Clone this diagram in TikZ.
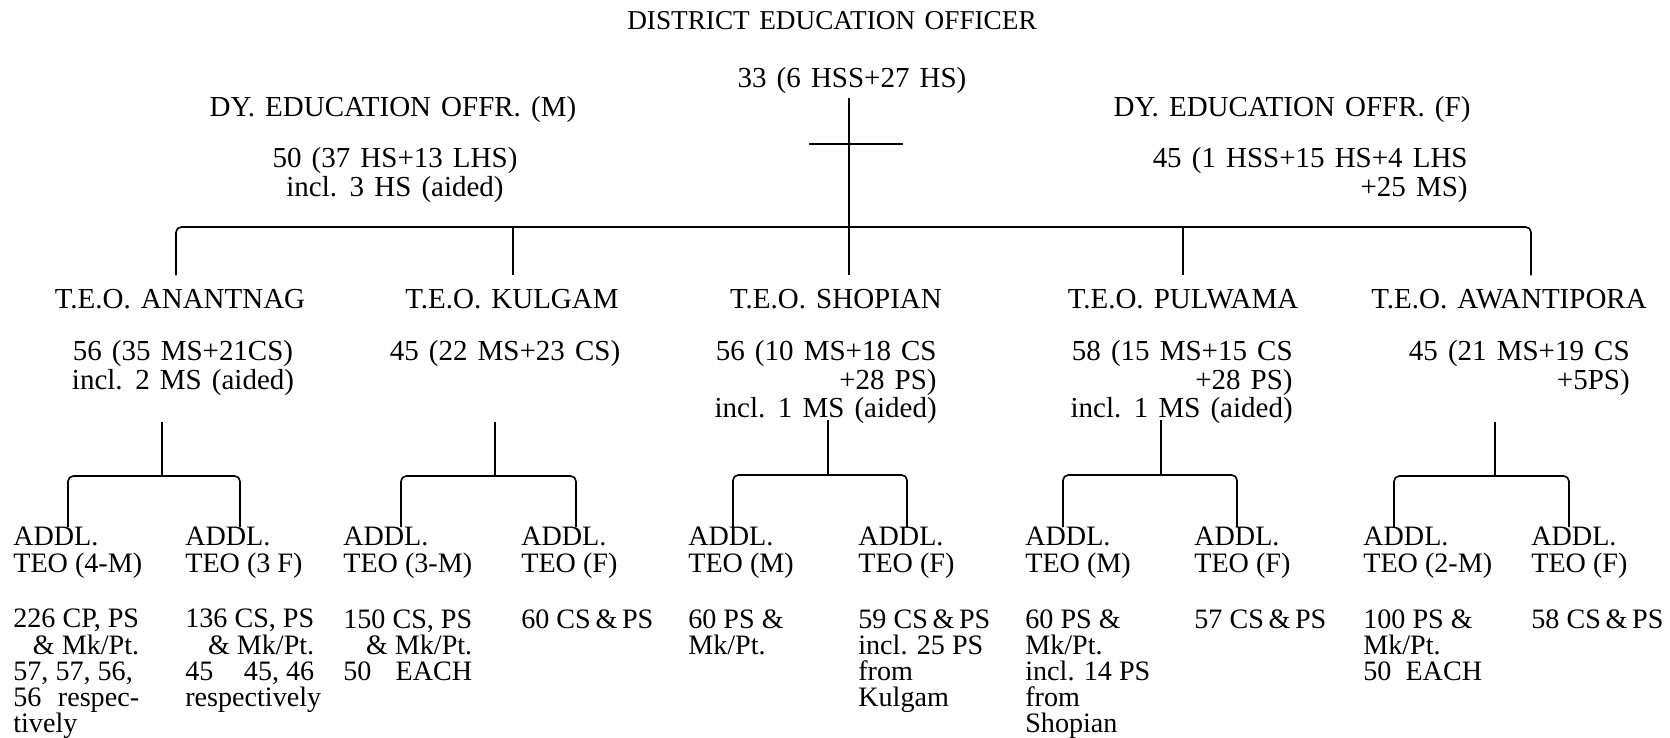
\documentclass[tikz,border=0pt]{standalone}
\usepackage{fontspec}
\setmainfont{Liberation Serif}
\newfontfamily\widefont[WordSpace=1.4]{Liberation Serif}
\usetikzlibrary{positioning}

\tikzset{
  txt/.style={inner sep=0pt, anchor=north, font=\widefont\fontsize{16.5}{14.9}\selectfont},
  addl/.style={txt, anchor=north west, align=left, font=\rmfamily\fontsize{16}{14.9}\selectfont},
  wire/.style={line width=0.9pt},
  bracket/.style={wire, rounded corners=3pt},
}

\begin{document}
\begin{tikzpicture}[x=0.02cm, y=-0.02cm]
\useasboundingbox (0,0) rectangle (1670,737);

% officers at the top
\node[txt, font=\widefont\fontsize{15.5}{14.9}\selectfont] (deo) at (832,11.5) {DISTRICT EDUCATION OFFICER};
\node[txt] (deocnt) at (852,67.5) {33 (6 HSS+27 HS)};
\node[txt] (dyM) at (393,96.5) {DY. EDUCATION OFFR. (M)};
\node[txt, align=center] (dyMcnt) at (395,147.5) {50 (37 HS+13 LHS)\\incl. 3 HS (aided)};
\node[txt] (dyF) at (1292,96.5) {DY. EDUCATION OFFR. (F)};
\node[txt, anchor=north east, align=right] (dyFcnt) at (1468,147.5) {45 (1 HSS+15 HS+4 LHS\\+25 MS)};

% zonal officers
\node[txt] (teoA) at (180,288.5) {T.E.O. ANANTNAG};
\node[txt] (teoK) at (512,288.5) {T.E.O. KULGAM};
\node[txt] (teoS) at (836,288.5) {T.E.O. SHOPIAN};
\node[txt] (teoP) at (1183,288.5) {T.E.O. PULWAMA};
\node[txt] (teoW) at (1509,288.5) {T.E.O. AWANTIPORA};

\node[txt, align=center] (cntA) at (183,340.5) {56 (35 MS+21CS)\\incl. 2 MS (aided)};
\node[txt] (cntK) at (505,340.5) {45 (22 MS+23 CS)};
\node[txt, anchor=north east, align=right] (cntS) at (937,340.5) {56 (10 MS+18 CS\\+28 PS)\\incl. 1 MS (aided)};
\node[txt, anchor=north east, align=right] (cntP) at (1293,340.5) {58 (15 MS+15 CS\\+28 PS)\\incl. 1 MS (aided)};
\node[txt, anchor=north east, align=right] (cntW) at (1630,340.5) {45 (21 MS+19 CS\\+5PS)};

% bus from the top
\coordinate (hub) at (849,227);
\coordinate (busA) at (176,227);
\coordinate (busK) at (513,227);
\coordinate (busP) at (1183,227);
\coordinate (busW) at (1531,227);
\coordinate (crossL) at (809,144);
\coordinate (crossR) at (903,144);
\draw[wire, shorten <=2pt] (deocnt.south -| hub) -- (hub);
\draw[wire] (crossL) -- (crossR);
\draw[bracket, shorten <=7.5pt, shorten >=7.5pt] (busA |- teoA.north) |- (hub) -| (busW |- teoW.north);
\draw[wire, shorten >=7.5pt] (busK) -- (busK |- teoK.north);
\draw[wire, shorten >=7.5pt] (hub) -- (hub |- teoS.north);
\draw[wire, shorten >=7.5pt] (busP) -- (busP |- teoP.north);

% additional officers
\node[addl] (addlA1) at (13,527) {ADDL.\\TEO (4-M)};
\node[addl] (addlA2) at (185,527) {ADDL.\\TEO (3 F)};
\node[addl] (addlK1) at (343,527) {ADDL.\\TEO (3-M)};
\node[addl] (addlK2) at (521,527) {ADDL.\\TEO (F)};
\node[addl] (addlS1) at (688,527) {ADDL.\\TEO (M)};
\node[addl] (addlS2) at (858,527) {ADDL.\\TEO (F)};
\node[addl] (addlP1) at (1025,527) {ADDL.\\TEO (M)};
\node[addl] (addlP2) at (1194,527) {ADDL.\\TEO (F)};
\node[addl] (addlW1) at (1363,527) {ADDL.\\TEO (2-M)};
\node[addl] (addlW2) at (1531,527) {ADDL.\\TEO (F)};

\node[addl] (detA1) at (13,609) {226 CP, PS\\\hfill\& Mk/Pt.\\57, 57, 56,\\56\hfill respec-\\tively};
\node[addl] (detA2) at (185,609) {136 CS, PS\\\hfill\& Mk/Pt.\\45\hfill 45, 46\\respectively};
\node[addl] (detK1) at (343,609) {150 CS, PS\\\hfill\& Mk/Pt.\\50\hfill EACH};
\node[addl] (detK2) at (521,609) {60 CS\,\&\,PS};
\node[addl] (detS1) at (688,609) {60 PS \&\\Mk/Pt.};
\node[addl] (detS2) at (858,609) {59 CS\,\&\,PS\\incl. 25 PS\\from\\Kulgam};
\node[addl] (detP1) at (1025,609) {60 PS \&\\Mk/Pt.\\incl. 14 PS\\from\\Shopian};
\node[addl] (detP2) at (1194,609) {57 CS\,\&\,PS};
\node[addl] (detW1) at (1363,609) {100 PS \&\\Mk/Pt.\\50~~\hfill EACH};
\node[addl] (detW2) at (1531,609) {58 CS\,\&\,PS};

% brackets below each T.E.O.
\coordinate (stemA) at (162,422);
\coordinate (jA) at (162,476);
\coordinate (legA1) at (68,476);
\coordinate (legA2) at (240,476);
\draw[wire] (stemA) -- (jA);
\draw[bracket] (addlA1.north -| legA1) |- (jA) -| (addlA2.north -| legA2);

\coordinate (stemK) at (495,422);
\coordinate (jK) at (495,476);
\coordinate (legK1) at (401,476);
\coordinate (legK2) at (576,476);
\draw[wire] (stemK) -- (jK);
\draw[bracket] (addlK1.north -| legK1) |- (jK) -| (addlK2.north -| legK2);

\coordinate (stemS) at (828,420);
\coordinate (jS) at (828,475);
\coordinate (legS1) at (733,475);
\coordinate (legS2) at (907,475);
\draw[wire] (stemS) -- (jS);
\draw[bracket] (addlS1.north -| legS1) |- (jS) -| (addlS2.north -| legS2);

\coordinate (stemP) at (1161,420);
\coordinate (jP) at (1161,475);
\coordinate (legP1) at (1063,475);
\coordinate (legP2) at (1237,475);
\draw[wire] (stemP) -- (jP);
\draw[bracket] (addlP1.north -| legP1) |- (jP) -| (addlP2.north -| legP2);

\coordinate (stemW) at (1495,422);
\coordinate (jW) at (1495,476);
\coordinate (legW1) at (1394,476);
\coordinate (legW2) at (1569,476);
\draw[wire] (stemW) -- (jW);
\draw[bracket] (addlW1.north -| legW1) |- (jW) -| (addlW2.north -| legW2);
\end{tikzpicture}
\end{document}
